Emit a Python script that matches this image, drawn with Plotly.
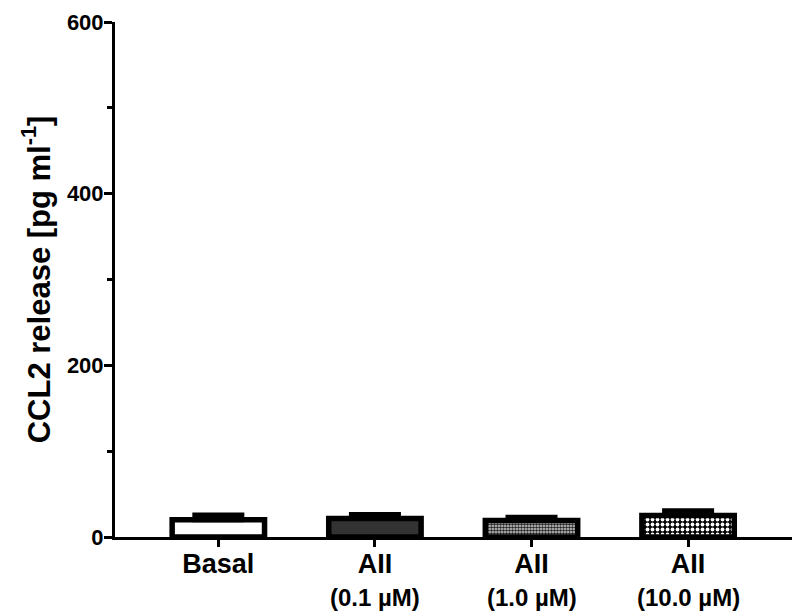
import plotly.graph_objects as go

categories = ["Basal", "AII (0.1 µM)", "AII (1.0 µM)", "AII (10.0 µM)"]
tick_main = ["Basal", "AII", "AII", "AII"]
tick_sub = ["", "(0.1 µM)", "(1.0 µM)", "(10.0 µM)"]
means = [20.0, 21.5, 19.2, 25.1]
errors = [5.7, 4.6, 3.9, 5.4]

bar_colors = ["white", "#333333", "#dddddd", "black"]
pat_shapes = ["", "", ".", "."]
pat_fg = ["black", "black", "#222222", "white"]
pat_bg = ["white", "#333333", "#dddddd", "black"]
pat_size = [6, 6, 3, 5]
pat_solid = [0.3, 0.3, 0.6, 0.45]

y_ticks = [0, 200, 400, 600]
y_minor = [100, 300, 500]

x_idx = list(range(len(categories)))

fig = go.Figure()
for i in x_idx:
    pattern = dict(shape=pat_shapes[i], fgcolor=pat_fg[i], bgcolor=pat_bg[i],
                   size=pat_size[i], solidity=pat_solid[i], fillmode="replace")
    fig.add_trace(go.Bar(
        x=[x_idx[i]],
        y=[means[i]],
        name=categories[i],
        width=0.59,
        marker=dict(color=bar_colors[i], line=dict(color="black", width=5.5),
                    pattern=pattern),
        error_y=dict(type="data", symmetric=False, array=[errors[i]],
                     arrayminus=[0], color="black", thickness=5, width=26),
        showlegend=False,
    ))

for i, s in enumerate(tick_sub):
    if s:
        fig.add_annotation(x=x_idx[i], y=-0.118, xref="x", yref="paper", text=s,
                           showarrow=False, yanchor="middle", xanchor="center",
                           font=dict(family="Liberation Sans", size=24, color="black",
                                     weight="bold"))

fig.update_layout(
    width=800, height=614,
    barmode="overlay",
    margin=dict(l=107, r=15, t=14, b=85, autoexpand=False),
    plot_bgcolor="white", paper_bgcolor="white",
    font=dict(family="Liberation Sans", color="black"),
    xaxis=dict(
        range=[-0.66, 3.67], automargin=False,
        tickmode="array", tickvals=x_idx, ticktext=tick_main,
        showline=True, linecolor="black", linewidth=3,
        ticks="outside", ticklen=7, tickwidth=2.5, tickcolor="black",
        ticklabelstandoff=-6, ticklabeloverflow="allow",
        tickfont=dict(family="Liberation Sans", size=27, color="black", weight="bold"),
        showgrid=False, zeroline=False,
    ),
    yaxis=dict(
        range=[0, 600], automargin=False,
        tickmode="array", tickvals=y_ticks,
        showline=True, linecolor="black", linewidth=3,
        ticks="outside", ticklen=8, tickwidth=2.5, tickcolor="black",
        ticklabelstandoff=-4, ticklabeloverflow="allow",
        tickfont=dict(family="Liberation Sans", size=22, color="black", weight="bold"),
        minor=dict(tickvals=y_minor, ticks="outside", ticklen=5,
                   tickwidth=2.5, tickcolor="black", showgrid=False),
        showgrid=False, zeroline=False,
        title=dict(text="CCL2 release [pg ml<sup>-1</sup>]", standoff=8,
                   font=dict(family="Liberation Sans", size=31, color="black",
                             weight="bold")),
    ),
)

fig.write_html("out.html")
